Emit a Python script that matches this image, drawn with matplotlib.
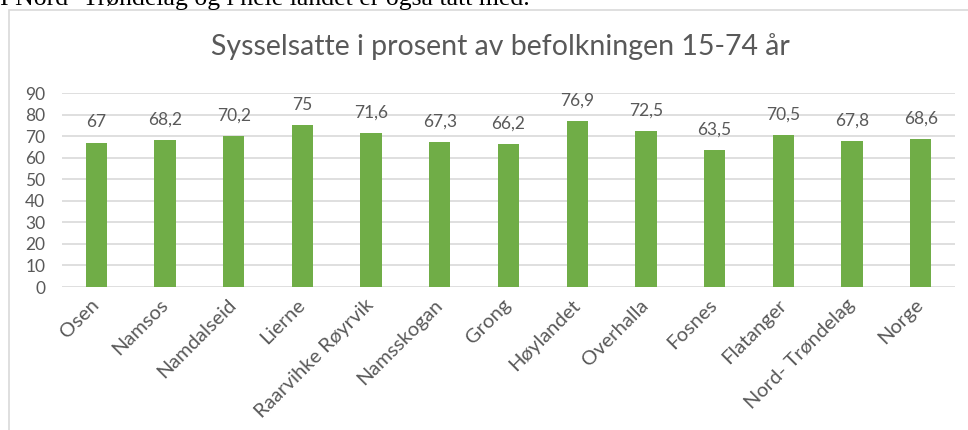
import matplotlib.pyplot as plt
from matplotlib.patches import Rectangle

# data
kommuner = ["Osen", "Namsos", "Namdalseid", "Lierne", "Raarvihke Røyrvik",
            "Namsskogan", "Grong", "Høylandet", "Overhalla", "Fosnes",
            "Flatanger", "Nord- Trøndelag", "Norge"]
prosent = [67, 68.2, 70.2, 75, 71.6, 67.3, 66.2, 76.9, 72.5, 63.5, 70.5, 67.8, 68.6]
yticks = [0, 10, 20, 30, 40, 50, 60, 70, 80, 90]

plt.rcParams["font.family"] = ["Lato", "DejaVu Sans"]
grey = "#595959"

fig = plt.figure(figsize=(9.68, 4.30), dpi=100)

# chart border (runs past right and bottom edge)
fig.patches.append(Rectangle((9 / 968, -0.05), 1.0, 1 - 10 / 430 + 0.05,
                             transform=fig.transFigure, fill=False,
                             edgecolor="#D9D9D9", linewidth=1.2))

# cut-off sentence from the document above the chart
fig.text(0.0, 1 - 5 / 430, "I Nord- Trøndelag og i hele landet er også tatt med.",
         family="Liberation Serif", fontsize=18.5, color="black", va="baseline")

ax = fig.add_axes([62 / 968, 1 - 287 / 430, (955 - 62) / 968, (287 - 93) / 430])
x = range(len(kommuner))
bars = ax.bar(x, prosent, width=0.31, color="#70AD47", zorder=3)
for b, v in zip(bars, prosent):
    ax.annotate(f"{v:g}".replace(".", ","), (b.get_x() + b.get_width() / 2, v),
                xytext=(0, 9), textcoords="offset points", ha="center",
                va="bottom", fontsize=12.5, color=grey)

ax.set_xlim(-0.5, len(kommuner) - 0.5)
ax.set_ylim(0, 90)
ax.set_yticks(yticks)
ax.set_yticklabels([str(t) for t in yticks], fontsize=12.5, color=grey)
ax.set_xticks(list(x))
ax.set_xticklabels(kommuner, rotation=45, ha="right", va="center",
                   rotation_mode="anchor", fontsize=14.5, color=grey)
ax.tick_params(axis="both", length=0)
ax.tick_params(axis="x", pad=11)
ax.tick_params(axis="y", pad=12)
ax.grid(axis="y", color="#D9D9D9", linewidth=1.2, zorder=0)
for s in ax.spines.values():
    s.set_visible(False)

fig.text(500 / 968, 1 - 47 / 430, "Sysselsatte i prosent av befolkningen 15-74 år",
         ha="center", va="center", fontsize=20.5, color=grey)

fig.savefig("out.png", dpi=100)
